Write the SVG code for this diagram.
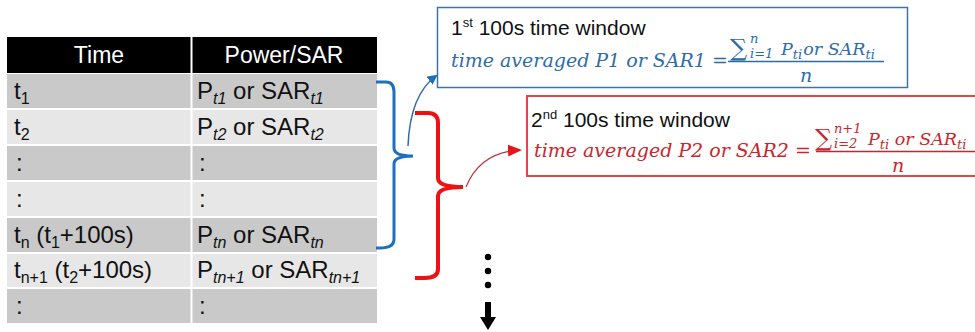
<svg xmlns="http://www.w3.org/2000/svg" width="975" height="332" viewBox="0 0 975 332">
<style>
.hd{font-family:"Liberation Sans",Arial,sans-serif;font-size:23px;fill:#fff}
.c{font-family:"Liberation Sans",Arial,sans-serif;font-size:24px;fill:#111}
.s{font-size:16px}
.si{font-size:16px;font-style:italic}
.dk{fill:#c9c9c9}
.lt{fill:#e7e7e7}
.ttl{font-family:"Liberation Sans",Arial,sans-serif;font-size:21px;fill:#111}
.m{font-family:"DejaVu Serif",serif;font-style:italic;font-size:19px}
.m2{font-family:"DejaVu Serif",serif;font-style:italic;font-size:17.5px}
.ms{font-family:"DejaVu Serif",serif;font-style:italic;font-size:13px}
.sum{font-family:"DejaVu Serif",serif;font-size:24px}
.b{fill:#2e6ca8}
.r{fill:#c8262c}
</style>
<defs>
<marker id="ab" markerWidth="10" markerHeight="10" refX="8" refY="5" orient="auto" markerUnits="userSpaceOnUse"><path d="M0,0 L10,5 L0,10 Z" fill="#1f6fbf"/></marker>
<marker id="ar" markerWidth="14" markerHeight="12" refX="12" refY="6" orient="auto" markerUnits="userSpaceOnUse"><path d="M0,0 L14,6 L0,12 Z" fill="#e8141c"/></marker>
</defs>
<rect width="975" height="332" fill="#fff"/>
<g id="table">
<rect x="7" y="37" width="370" height="36" fill="#000"/>
<rect x="7" y="74" width="370" height="34" class="dk"/>
<rect x="7" y="110" width="370" height="34" class="lt"/>
<rect x="7" y="146" width="370" height="34" class="dk"/>
<rect x="7" y="182" width="370" height="34" class="lt"/>
<rect x="7" y="218" width="370" height="34" class="dk"/>
<rect x="7" y="254" width="370" height="33" class="lt"/>
<rect x="7" y="289" width="370" height="34" class="dk"/>
<line x1="191.5" y1="37" x2="191.5" y2="323" stroke="#fff" stroke-width="2"/>
<text class="hd" x="99" y="63" text-anchor="middle">Time</text>
<text class="hd" x="284" y="63" text-anchor="middle">Power/SAR</text>
<text class="c" x="14" y="99">t<tspan class="s" dy="5">1</tspan></text>
<text class="c" x="197" y="99">P<tspan class="si" dy="5">t1</tspan><tspan dy="-5"> or SAR</tspan><tspan class="si" dy="5">t1</tspan></text>
<text class="c" x="14" y="135">t<tspan class="s" dy="5">2</tspan></text>
<text class="c" x="197" y="135">P<tspan class="si" dy="5">t2</tspan><tspan dy="-5"> or SAR</tspan><tspan class="si" dy="5">t2</tspan></text>
<text class="c" x="16" y="171">:</text>
<text class="c" x="199" y="171">:</text>
<text class="c" x="16" y="207">:</text>
<text class="c" x="199" y="207">:</text>
<text class="c" x="14" y="243">t<tspan class="s" dy="5">n</tspan><tspan dy="-5"> (t</tspan><tspan class="s" dy="5">1</tspan><tspan dy="-5">+100s)</tspan></text>
<text class="c" x="197" y="243">P<tspan class="si" dy="5">tn</tspan><tspan dy="-5"> or SAR</tspan><tspan class="si" dy="5">tn</tspan></text>
<text class="c" x="14" y="278">t<tspan class="s" dy="5">n+1</tspan><tspan dy="-5"> (t</tspan><tspan class="s" dy="5">2</tspan><tspan dy="-5">+100s)</tspan></text>
<text class="c" x="197" y="278">P<tspan class="si" dy="5">tn+1</tspan><tspan dy="-5"> or SAR</tspan><tspan class="si" dy="5">tn+1</tspan></text>
<text class="c" x="16" y="314">:</text>
<text class="c" x="199" y="314">:</text>
</g>
<g id="brace-blue">
<path d="M376,82 L386,82 Q394,82 394,92 L394,148 Q394,156 413,156 Q394,156 394,164 L394,239 Q394,248 380,248 L376,248" fill="none" stroke="#1f6fbf" stroke-width="3"/>
</g>
<g id="brace-red">
<path d="M415,113 L428,113 Q438,113 438,123 L438,178 Q438,187 463,187 Q438,187 438,196 L438,269 Q438,278 425,278 L415,278" fill="none" stroke="#ee1111" stroke-width="4"/>
</g>
<g id="window1">
<rect x="437.5" y="7.5" width="470" height="80" fill="#fff" stroke="#3d72ad" stroke-width="1.5"/>
<text class="ttl" x="451" y="35">1<tspan font-size="13" dy="-8">st</tspan><tspan dy="8"> 100s time window</tspan></text>
<text class="m b" x="451" y="67">time averaged P1 or SAR1 =</text>
<text class="sum b" x="730" y="56">∑</text>
<text class="ms b" x="750" y="43">n</text>
<text class="ms b" x="750" y="58">i=1</text>
<text class="m2 b" x="781" y="55">P<tspan class="ms" dy="4">ti</tspan><tspan dy="-4" dx="1">or SAR</tspan><tspan class="ms" dy="4">ti</tspan></text>
<line x1="728" y1="61.5" x2="884" y2="61.5" stroke="#2e6ca8" stroke-width="1.5"/>
<text class="m b" x="800" y="82">n</text>
</g>
<g id="window2">
<rect x="527" y="96" width="460" height="80" fill="#fff" stroke="#e04848" stroke-width="2"/>
<text class="ttl" x="531" y="127">2<tspan font-size="13" dy="-8">nd</tspan><tspan dy="8"> 100s time window</tspan></text>
<text class="m r" x="534" y="157">time averaged P2 or SAR2 =</text>
<text class="sum r" x="815" y="146">∑</text>
<text class="ms r" x="834" y="133">n+1</text>
<text class="ms r" x="834" y="148">i=2</text>
<text class="m2 r" x="868" y="145">P<tspan class="ms" dy="4">ti</tspan><tspan dy="-4"> or SAR</tspan><tspan class="ms" dy="4">ti</tspan></text>
<line x1="816" y1="151.5" x2="975" y2="151.5" stroke="#c8262c" stroke-width="1.5"/>
<text class="m r" x="892" y="172">n</text>
</g>
<g id="connectors">
<path d="M408,146 Q410,95 436,76" fill="none" stroke="#2e6ca8" stroke-width="1.5" marker-end="url(#ab)"/>
<path d="M466,187 Q480,152 520,150" fill="none" stroke="#b8333a" stroke-width="1.2" marker-end="url(#ar)"/>
</g>
<g id="continue">
<circle cx="488" cy="257" r="3.2" fill="#000"/>
<circle cx="488" cy="271" r="3.2" fill="#000"/>
<circle cx="488" cy="285" r="3.2" fill="#000"/>
<path d="M485,302 L491,302 L491,317 L496,317 L488,330 L480,317 L485,317 Z" fill="#000"/>
</g>
</svg>
